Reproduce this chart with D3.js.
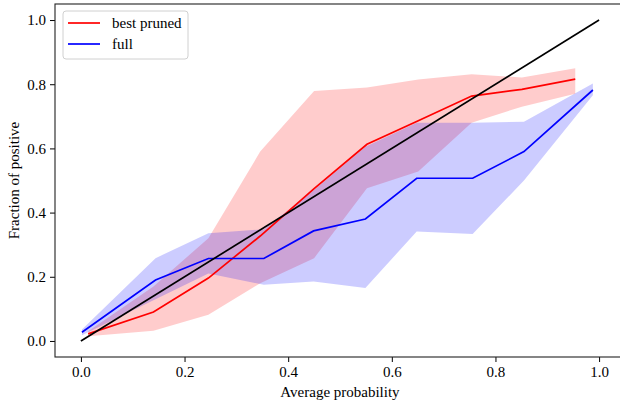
<!DOCTYPE html>
<html>
<head>
<meta charset="utf-8">
<script src="https://cdn.jsdelivr.net/npm/d3@7"></script>
<style>
  body { margin: 0; background: #fff; }
  svg { display: block; }
  svg text { font-family: "Liberation Serif", "Times New Roman", "DejaVu Serif", serif !important; fill: #000; }
</style>
</head>
<body>
<div id="chart"></div>
<script>
// reliability curve data
const prunedX = [0.014, 0.14, 0.246, 0.346, 0.45, 0.552, 0.651, 0.754, 0.851, 0.954];
const prunedY = [0.022, 0.090, 0.196, 0.327, 0.475, 0.613, 0.686, 0.763, 0.784, 0.816];
const prunedLo = [0.015, 0.032, 0.082, 0.18, 0.258, 0.476, 0.528, 0.68, 0.73, 0.77];
const prunedHi = [0.03, 0.17, 0.32, 0.59, 0.779, 0.79, 0.815, 0.831, 0.821, 0.85];

const fullX = [0.002, 0.144, 0.246, 0.353, 0.449, 0.549, 0.648, 0.756, 0.855, 0.988];
const fullY = [0.027, 0.19, 0.257, 0.257, 0.343, 0.380, 0.507, 0.507, 0.59, 0.782];
const fullLo = [0.018, 0.13, 0.21, 0.175, 0.185, 0.165, 0.341, 0.333, 0.5, 0.766];
const fullHi = [0.036, 0.258, 0.336, 0.348, 0.47, 0.605, 0.68, 0.68, 0.683, 0.802];

const diagX = [0, 1];
const diagY = [0, 1];

const ticks = [0, 0.2, 0.4, 0.6, 0.8, 1.0];
const seriesNames = ["best pruned", "full"];
const seriesColors = ["#ff0000", "#0000ff"];

const width = 620, height = 405;
const margin = {left: 55, top: 4, right: 625, bottom: 357};
const fontStack = '"Liberation Serif", "Times New Roman", "DejaVu Serif", serif';

const svg = d3.select("#chart").append("svg")
    .attr("width", width)
    .attr("height", height)
    .attr("font-family", fontStack);

const x = d3.scaleLinear().domain([-0.05, 1.05]).range([margin.left, margin.right]);
const y = d3.scaleLinear().domain([-0.05, 1.05]).range([margin.bottom, margin.top]);

const zip = (xs, ys) => xs.map((v, i) => [v, ys[i]]);

// bands
const band = d3.area()
    .x(d => x(d.x))
    .y0(d => y(d.lo))
    .y1(d => y(d.hi));

function bandData(xs, lo, hi) {
    return xs.map((v, i) => ({x: v, lo: lo[i], hi: hi[i]}));
}

svg.append("path")
    .attr("d", band(bandData(prunedX, prunedLo, prunedHi)))
    .attr("fill", seriesColors[0])
    .attr("fill-opacity", 0.2);

svg.append("path")
    .attr("d", band(bandData(fullX, fullLo, fullHi)))
    .attr("fill", seriesColors[1])
    .attr("fill-opacity", 0.2);

// lines
const line = d3.line().x(d => x(d[0])).y(d => y(d[1]));

svg.append("path")
    .attr("d", line(zip(prunedX, prunedY)))
    .attr("fill", "none")
    .attr("stroke", seriesColors[0])
    .attr("stroke-width", 1.7);

svg.append("path")
    .attr("d", line(zip(fullX, fullY)))
    .attr("fill", "none")
    .attr("stroke", seriesColors[1])
    .attr("stroke-width", 1.7);

svg.append("path")
    .attr("d", line(zip(diagX, diagY)))
    .attr("fill", "none")
    .attr("stroke", "#000")
    .attr("stroke-width", 1.7);

// axes
const xAxis = svg.append("g")
    .attr("transform", `translate(0,${margin.bottom})`)
    .call(d3.axisBottom(x).tickValues(ticks).tickFormat(d3.format(".1f")).tickSize(5).tickPadding(4).tickSizeOuter(0));

const yAxis = svg.append("g")
    .attr("transform", `translate(${margin.left},0)`)
    .call(d3.axisLeft(y).tickValues(ticks).tickFormat(d3.format(".1f")).tickSize(5).tickPadding(4).tickSizeOuter(0));

[xAxis, yAxis].forEach(g => {
    g.attr("font-family", fontStack).attr("font-size", 15);
    g.select(".domain").remove();
    g.selectAll(".tick line").attr("stroke", "#000").attr("stroke-width", 1);
});

// frame (right side falls off the canvas)
svg.append("rect")
    .attr("x", margin.left)
    .attr("y", margin.top)
    .attr("width", margin.right - margin.left)
    .attr("height", margin.bottom - margin.top)
    .attr("fill", "none")
    .attr("stroke", "#222")
    .attr("stroke-width", 1.1);

// axis labels
svg.append("text")
    .attr("x", (margin.left + margin.right) / 2)
    .attr("y", 397)
    .attr("text-anchor", "middle")
    .attr("font-size", 15)
    .text("Average probability");

svg.append("text")
    .attr("transform", `translate(19,${(margin.top + margin.bottom) / 2}) rotate(-90)`)
    .attr("text-anchor", "middle")
    .attr("font-size", 15)
    .text("Fraction of positive");

// legend
const legend = svg.append("g").attr("transform", "translate(63,11)");
legend.append("rect")
    .attr("width", 125)
    .attr("height", 48)
    .attr("rx", 3)
    .attr("fill", "#fff")
    .attr("fill-opacity", 0.8)
    .attr("stroke", "#d0d0d0");

seriesNames.forEach((name, i) => {
    const g = legend.append("g").attr("transform", `translate(0,${12 + i * 21})`);
    g.append("line")
        .attr("x1", 5).attr("x2", 37)
        .attr("stroke", seriesColors[i])
        .attr("stroke-width", 1.7);
    g.append("text")
        .attr("x", 49)
        .attr("y", 5)
        .attr("font-size", 15)
        .text(name);
});
</script>
</body>
</html>
